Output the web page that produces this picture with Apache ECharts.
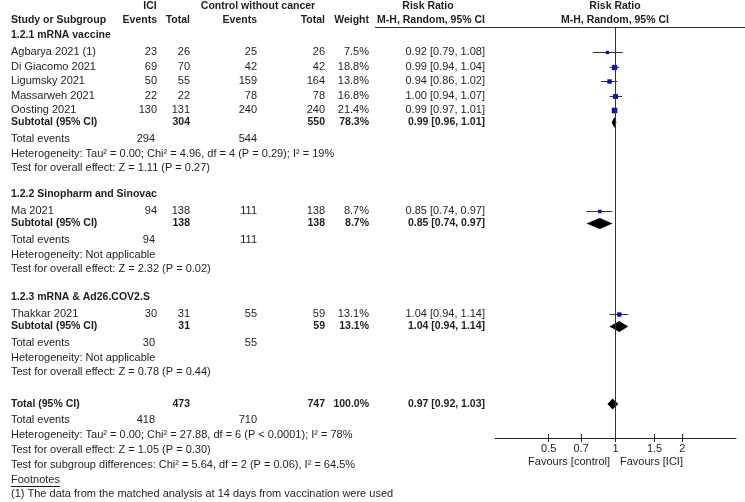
<!DOCTYPE html>
<html><head><meta charset="utf-8">
<script src="https://cdn.jsdelivr.net/npm/echarts@6/dist/echarts.min.js"></script>
<style>html,body{margin:0;padding:0;background:#fff}#c{width:745px;height:502px}</style>
</head><body><div id="c"></div>
<script>
// ---------- data ----------
const studyNames = ['Agbarya 2021 (1)','Di Giacomo 2021','Ligumsky 2021','Massarweh 2021','Oosting 2021','Ma 2021','Thakkar 2021'];
const studyGroup = [0,0,0,0,0,1,2];
const iciEvents  = [23,69,50,22,130,94,30];
const iciTotal   = [26,70,55,22,131,138,31];
const ctrlEvents = [25,42,159,78,240,111,55];
const ctrlTotal  = [26,42,164,78,240,138,59];
const weights    = [7.5,18.8,13.8,16.8,21.4,8.7,13.1];
const rr   = [0.92,0.99,0.94,1.00,0.99,0.85,1.04];
const rrLo = [0.79,0.94,0.86,0.94,0.97,0.74,0.94];
const rrHi = [1.08,1.04,1.02,1.07,1.01,0.97,1.14];

const groupNames   = ['1.2.1 mRNA vaccine','1.2.2 Sinopharm and Sinovac','1.2.3 mRNA & Ad26.COV2.S'];
const subIciTotal  = [304,138,31];
const subCtrlTotal = [550,138,59];
const subWeight    = [78.3,8.7,13.1];
const subRR   = [0.99,0.85,1.04];
const subLo   = [0.96,0.74,0.94];
const subHi   = [1.01,0.97,1.14];
const subIciEvents  = [294,94,30];
const subCtrlEvents = [544,111,55];
const subHet  = ['Heterogeneity: Tau\u00b2 = 0.00; Chi\u00b2 = 4.96, df = 4 (P = 0.29); I\u00b2 = 19%','Heterogeneity: Not applicable','Heterogeneity: Not applicable'];
const subTest = ['Test for overall effect: Z = 1.11 (P = 0.27)','Test for overall effect: Z = 2.32 (P = 0.02)','Test for overall effect: Z = 0.78 (P = 0.44)'];

const totIciTotal = 473, totCtrlTotal = 747, totWeight = 100.0;
const totRR = 0.97, totLo = 0.92, totHi = 1.03;
const totIciEvents = 418, totCtrlEvents = 710;
const totHet  = 'Heterogeneity: Tau\u00b2 = 0.00; Chi\u00b2 = 27.88, df = 6 (P < 0.0001); I\u00b2 = 78%';
const totTest = 'Test for overall effect: Z = 1.05 (P = 0.30)';
const subDiff = 'Test for subgroup differences: Chi\u00b2 = 5.64, df = 2 (P = 0.06), I\u00b2 = 64.5%';
const footnoteTitle = 'Footnotes';
const footnote1 = '(1) The data from the matched analysis at 14 days from vaccination were used';
const tickValues = [0.5,0.7,1,1.5,2];
const favLeft = 'Favours [control]', favRight = 'Favours [ICI]';

// ---------- layout (rows in px, columns in px) ----------
const rowStudy = [52,66.5,81,95.5,110,211,314];
const rowGroup = [35,194,297];
const rowSub   = [122.5,223.5,326.5];
const rowTotEv = [139,240,343];
const rowHet   = [153.5,254.5,357.5];
const rowTest  = [168,269,372];
const rowTotal = 404, rowTotTotEv = 420, rowTotHet = 435, rowTotTest = 450, rowSubDiff = 465, rowFoot = 480, rowFoot1 = 494;
const colName = 11, colIciEv = 157, colIciTot = 190, colCtrlEv = 257, colCtrlTot = 325, colW = 369, colRR = 485;
const plotLeft = 495, plotRight = 736, plotTop = 27, plotBottom = 438, lnRange = 1.25;

const FONT = 'Arial, "Liberation Sans", sans-serif';
const FS = 11, FSB = 10.5;
const TXT = '#1e1e1e';

const fmtRR = (v,l,h) => v.toFixed(2)+' ['+l.toFixed(2)+', '+h.toFixed(2)+']';
const fmtW = w => w.toFixed(1)+'%';

const g = [];
function T(text,x,y,align,bold){
  g.push({type:'text',x:x,y:y,silent:true,style:{text:String(text),x:0,y:0,align:align||'left',verticalAlign:'middle',
    font:(bold?'bold '+FSB:FS)+'px '+FONT,fill:TXT}});
}
// headers
T('ICI',150,6,'center',true);
T('Control without cancer',258,6,'center',true);
T('Risk Ratio',428,6,'center',true);
T('Risk Ratio',615,6,'center',true);
T('Study or Subgroup',colName,20,'left',true);
T('Events',colIciEv,20,'right',true);
T('Total',colIciTot,20,'right',true);
T('Events',colCtrlEv,20,'right',true);
T('Total',colCtrlTot,20,'right',true);
T('Weight',colW,20,'right',true);
T('M-H, Random, 95% CI',colRR,20,'right',true);
T('M-H, Random, 95% CI',615,20,'center',true);
g.push({type:'line',silent:true,shape:{x1:375,y1:27.5,x2:745,y2:27.5},style:{stroke:'#333',lineWidth:1}});

for(let k=0;k<3;k++){
  T(groupNames[k],colName,rowGroup[k],'left',true);
  studyNames.forEach((n,i)=>{
    if(studyGroup[i]!==k) return;
    const y=rowStudy[i];
    T(n,colName,y); T(iciEvents[i],colIciEv,y,'right'); T(iciTotal[i],colIciTot,y,'right');
    T(ctrlEvents[i],colCtrlEv,y,'right'); T(ctrlTotal[i],colCtrlTot,y,'right');
    T(fmtW(weights[i]),colW,y,'right'); T(fmtRR(rr[i],rrLo[i],rrHi[i]),colRR,y,'right');
  });
  T('Subtotal (95% CI)',colName,rowSub[k],'left',true);
  T(subIciTotal[k],colIciTot,rowSub[k],'right',true);
  T(subCtrlTotal[k],colCtrlTot,rowSub[k],'right',true);
  T(fmtW(subWeight[k]),colW,rowSub[k],'right',true);
  T(fmtRR(subRR[k],subLo[k],subHi[k]),colRR,rowSub[k],'right',true);
  T('Total events',colName,rowTotEv[k]);
  T(subIciEvents[k],colIciEv-2,rowTotEv[k],'right');
  T(subCtrlEvents[k],colCtrlEv,rowTotEv[k],'right');
  T(subHet[k],colName,rowHet[k]);
  T(subTest[k],colName,rowTest[k]);
}
T('Total (95% CI)',colName,rowTotal,'left',true);
T(totIciTotal,colIciTot,rowTotal,'right',true);
T(totCtrlTotal,colCtrlTot,rowTotal,'right',true);
T(fmtW(totWeight),colW,rowTotal,'right',true);
T(fmtRR(totRR,totLo,totHi),colRR,rowTotal,'right',true);
T('Total events',colName,rowTotTotEv);
T(totIciEvents,colIciEv-2,rowTotTotEv,'right');
T(totCtrlEvents,colCtrlEv,rowTotTotEv,'right');
T(totHet,colName,rowTotHet);
T(totTest,colName,rowTotTest);
T(subDiff,colName,rowSubDiff);
T(footnoteTitle,colName,rowFoot);
g.push({type:'line',silent:true,shape:{x1:colName,y1:rowFoot+6.5,x2:colName+49,y2:rowFoot+6.5},style:{stroke:TXT,lineWidth:1}});
T(footnote1,colName,rowFoot1);
T(favLeft,610,rowSubDiff-3,'right');
T(favRight,620,rowSubDiff-3,'left');

// ---------- forest data via axes ----------
const ln = Math.log;
const studyData = rr.map((v,i)=>[ln(v),ln(rrLo[i]),ln(rrHi[i]),rowStudy[i],weights[i]]);
const diamondData = subRR.map((v,k)=>[ln(v),ln(subLo[k]),ln(subHi[k]),rowSub[k]]).concat([[ln(totRR),ln(totLo),ln(totHi),rowTotal]]);

const chart = echarts.init(document.getElementById('c'),null,{renderer:'canvas'});
const xCommon = {type:'value',min:-lnRange,max:lnRange,splitLine:{show:false},gridIndex:0};
chart.setOption({
  animation:false,
  grid:{left:plotLeft,top:plotTop,width:plotRight-plotLeft,height:plotBottom-plotTop,containLabel:false},
  xAxis:[
    Object.assign({},xCommon,{position:'bottom',
      axisLine:{show:true,lineStyle:{color:'#222',width:1}},
      axisTick:{show:true,length:4,inside:false,lineStyle:{color:'#222'},customValues:tickValues.map(ln)},
      axisLabel:{show:true,margin:5,color:TXT,fontSize:FS,fontFamily:FONT,customValues:tickValues.map(ln),
        formatter:v=>{const t=tickValues.find(q=>Math.abs(ln(q)-v)<1e-6);return t===undefined?'':String(t);}}}),
    Object.assign({},xCommon,{position:'bottom',
      axisLine:{show:false},
      axisTick:{show:true,length:4,inside:true,lineStyle:{color:'#222'},customValues:tickValues.map(ln)},
      axisLabel:{show:false}})
  ],
  yAxis:{type:'value',inverse:true,min:plotTop,max:plotBottom,show:false},
  series:[
    {type:'custom',xAxisIndex:0,yAxisIndex:0,data:studyData,clip:false,
      renderItem:(params,api)=>{
        const c=api.coord([api.value(0),api.value(3)]);
        const lo=api.coord([api.value(1),api.value(3)]);
        const hi=api.coord([api.value(2),api.value(3)]);
        const s=1.2*Math.sqrt(api.value(4));
        const y=Math.round(c[1])+0.5;
        return {type:'group',children:[
          {type:'line',shape:{x1:lo[0],y1:y,x2:hi[0],y2:y},style:{stroke:'#333',lineWidth:1}},
          {type:'rect',shape:{x:c[0]-s/2,y:y-s/2,width:s,height:s},style:{fill:'#0a0ad8'}}
        ]};
      },
      markLine:{silent:true,symbol:'none',label:{show:false},lineStyle:{color:'#333',width:1,type:'solid'},data:[{xAxis:0}]}
    },
    {type:'custom',xAxisIndex:0,yAxisIndex:0,data:diamondData,clip:false,
      renderItem:(params,api)=>{
        const c=api.coord([api.value(0),api.value(3)]);
        const lo=api.coord([api.value(1),api.value(3)]);
        const hi=api.coord([api.value(2),api.value(3)]);
        const h=5.5;
        return {type:'polygon',shape:{points:[[lo[0],c[1]],[c[0],c[1]-h],[hi[0],c[1]],[c[0],c[1]+h]]},style:{fill:'#000'}};
      }
    }
  ],
  graphic:g
});
</script></body></html>
